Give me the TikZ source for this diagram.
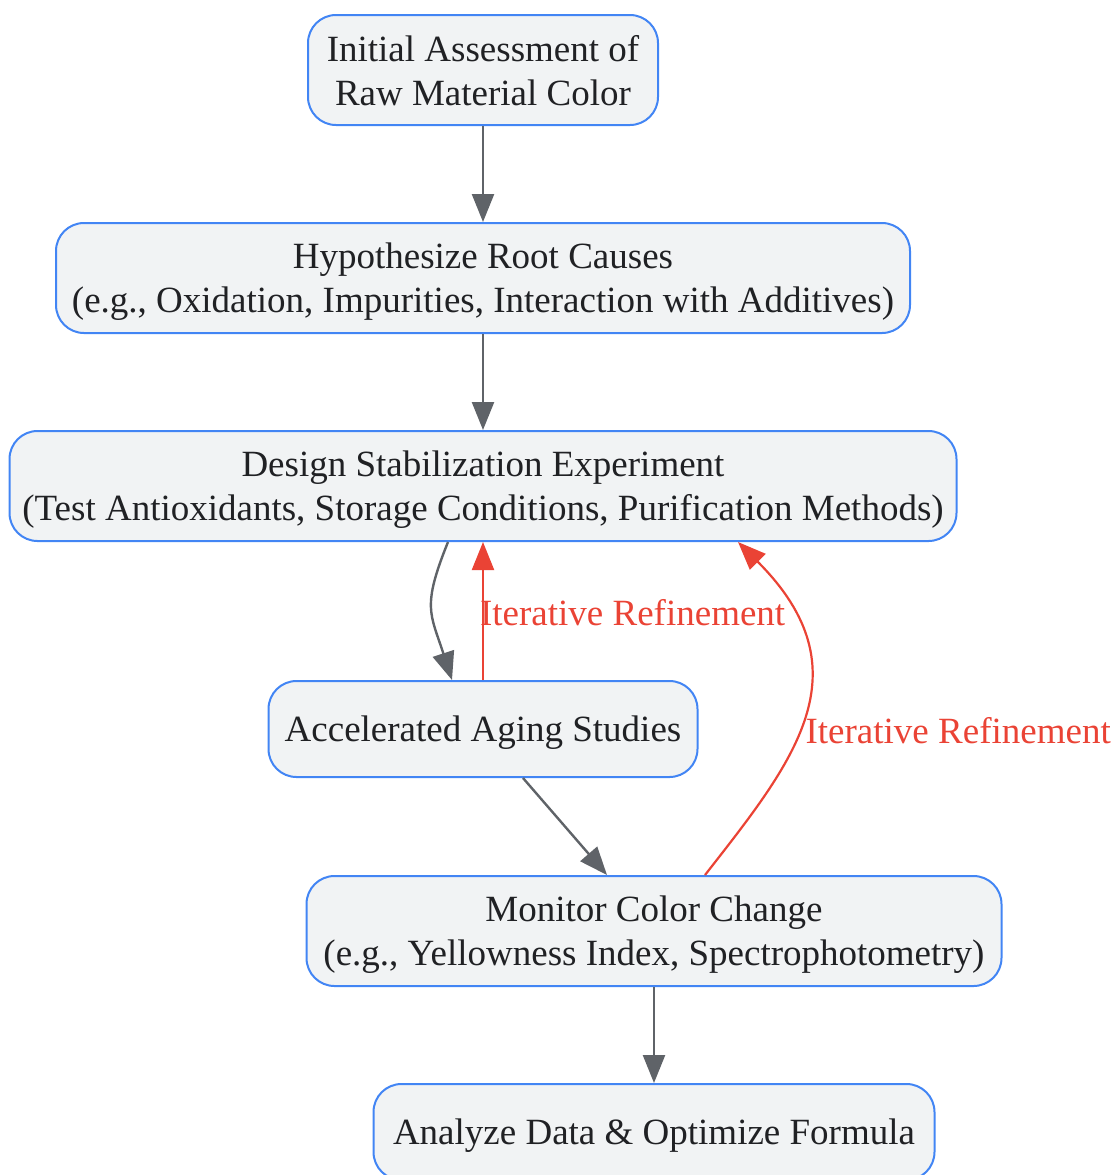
\documentclass[tikz,border=0pt]{standalone}
\usepackage{fontspec}
\setmainfont{Liberation Serif}
\usetikzlibrary{positioning,arrows.meta}
\definecolor{boxblue}{HTML}{4285F4}
\definecolor{boxfill}{HTML}{F1F3F4}
\definecolor{flowgray}{HTML}{5F6368}
\definecolor{loopred}{HTML}{EA4335}
\definecolor{textdark}{HTML}{202124}
\tikzset{
flow/.style={
    >={Triangle[length=14pt,width=11pt]},
    x=0.5pt,
    y=0.5pt,
    node distance=48pt,
    font=\fontsize{18.5}{22}\selectfont
},
stage/.style={
    draw=boxblue,
    line width=1pt,
    fill=boxfill,
    rounded corners=14pt,
    text=textdark,
    align=center,
    inner sep=0pt,
    text depth=-1pt,
    minimum height=55pt
},
leads/.style={
    ->,
    draw=flowgray,
    line width=1.2pt
},
refine/.style={
    ->,
    draw=loopred,
    line width=1.1pt
},
lbl/.style={
    text=loopred,
    anchor=west,
    inner sep=0pt
}}

\begin{document}
\begin{tikzpicture}[flow]
\useasboundingbox (0,0) rectangle (1116,-1175);

\node    (init)  [stage, minimum width=175pt] at (483,-70)
    {Initial Assessment of\\Raw Material Color};
\node    (hyp)   [stage, minimum width=427pt, below=of init]
    {Hypothesize Root Causes\\(e.g., Oxidation, Impurities, Interaction with Additives)};
\node    (des)   [stage, minimum width=473.5pt, below=of hyp]
    {Design Stabilization Experiment\\(Test Antioxidants, Storage Conditions, Purification Methods)};
\node    (age)   [stage, minimum width=214.5pt, minimum height=48pt, below=69pt of des]
    {Accelerated Aging Studies};
\node    (mon)   [stage, minimum width=347.5pt, below=48.5pt of age, xshift=85.5pt]
    {Monitor Color Change\\(e.g., Yellowness Index, Spectrophotometry)};
\node    (ana)   [stage, minimum width=280.5pt, minimum height=48pt, below=of mon]
    {Analyze Data \& Optimize Formula};

\path    (init)  edge[leads]    (hyp);
\path    (hyp)   edge[leads]    (des);
\path    ([xshift=-17.5pt]des.south)  edge[leads, out=-112, in=108, looseness=1.3]  ([xshift=-15.5pt]age.north);
\path    (age)   edge[refine]   node[lbl, pos=0.49, xshift=-2pt] {Iterative Refinement}   (des);
\path    ([xshift=20pt]age.south)  edge[leads]  ([xshift=-23.5pt]mon.north);
\path    ([xshift=25.5pt]mon.north)  edge[refine, out=52, in=-45, out looseness=1.1, in looseness=1.4]
    node[lbl, pos=0.45, xshift=3pt] {Iterative Refinement}   ([xshift=127.5pt]des.south);
\path    (mon)   edge[leads]    (ana);
\end{tikzpicture}
\end{document}
